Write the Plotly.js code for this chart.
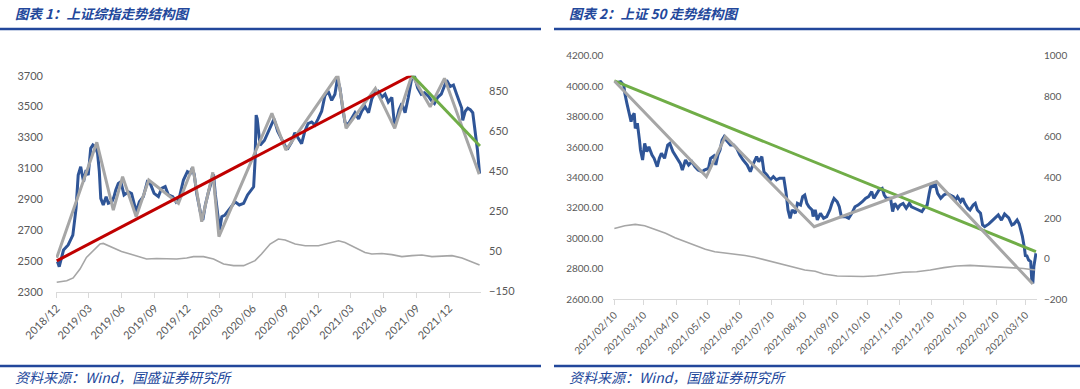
<!DOCTYPE html>
<html>
<head>
<meta charset="utf-8">
<script src="https://cdn.plot.ly/plotly-3.0.1.min.js"></script>
<style>
  html, body { margin: 0; padding: 0; background: #ffffff; }
  #chart { width: 1080px; height: 389px; }
</style>
</head>
<body>
<div id="chart"></div>
<script>
// ---------------- Chart 1: 上证综指 ----------------
const shDates = ['2018-12-22','2018-12-27','2019-01-08','2019-01-21','2019-02-03','2019-02-12','2019-02-18','2019-02-25','2019-03-05','2019-03-12','2019-03-18','2019-03-25','2019-03-31','2019-04-06','2019-04-13','2019-04-18','2019-04-22','2019-04-29','2019-05-07','2019-05-13','2019-05-23','2019-05-29','2019-06-03','2019-06-10','2019-06-17','2019-06-26','2019-07-08','2019-07-17','2019-07-30','2019-08-08','2019-08-19','2019-08-30','2019-09-07','2019-09-18','2019-09-30','2019-10-09','2019-10-19','2019-10-28','2019-11-09','2019-11-18','2019-11-28','2019-12-09','2019-12-20','2019-12-28','2020-01-02','2020-01-08','2020-01-15','2020-01-25','2020-02-01','2020-02-08','2020-02-17','2020-02-26','2020-03-02','2020-03-07','2020-03-13','2020-03-19','2020-03-25','2020-04-03','2020-04-17','2020-05-01','2020-05-13','2020-05-25','2020-06-05','2020-06-12','2020-06-22','2020-06-26','2020-06-29','2020-07-02','2020-07-10','2020-07-22','2020-08-02','2020-08-11','2020-08-18','2020-08-28','2020-09-08','2020-09-19','2020-09-26','2020-10-06','2020-10-15','2020-10-24','2020-11-03','2020-11-12','2020-11-21','2020-12-01','2020-12-10','2020-12-19','2020-12-29','2021-01-07','2021-01-16','2021-01-26','2021-02-04','2021-02-11','2021-02-18','2021-02-25','2021-03-04','2021-03-12','2021-03-23','2021-04-01','2021-04-11','2021-04-20','2021-04-29','2021-05-09','2021-05-18','2021-05-27','2021-06-05','2021-06-15','2021-06-24','2021-07-03','2021-07-13','2021-07-20','2021-07-27','2021-08-02','2021-08-10','2021-08-19','2021-08-28','2021-09-07','2021-09-14','2021-09-23','2021-10-03','2021-10-12','2021-10-22','2021-10-31','2021-11-09','2021-11-18','2021-11-28','2021-12-07','2021-12-13','2021-12-23','2022-01-01','2022-01-10','2022-01-17','2022-01-24','2022-01-27','2022-02-03','2022-02-10','2022-02-17','2022-02-24','2022-02-28','2022-03-06','2022-03-09','2022-03-15'];
const shClose = [2495,2462,2570,2603,2667,2840,3056,3110,3013,3089,3056,3229,3251,3240,3200,3080,2905,2862,2916,2873,2883,2916,2960,3002,3013,2927,2948,2937,2819,2883,2916,3013,3002,2937,2916,2970,2981,2927,2916,2883,2916,3024,3078,3067,3100,3060,2937,2819,2765,2862,2948,3024,3060,2930,2797,2700,2786,2797,2840,2883,2862,2873,2927,2948,2980,3150,3445,3420,3250,3280,3340,3380,3420,3340,3290,3240,3230,3270,3330,3300,3260,3340,3390,3400,3380,3420,3470,3570,3600,3540,3580,3680,3620,3500,3400,3380,3420,3460,3420,3470,3500,3460,3550,3590,3600,3560,3580,3530,3560,3390,3420,3480,3520,3460,3560,3690,3700,3620,3580,3590,3570,3540,3520,3560,3580,3640,3670,3630,3640,3580,3540,3490,3410,3470,3490,3480,3460,3380,3300,3220,3065];

const shWaveDates = ['2018-12-20','2019-04-11','2019-05-27','2019-06-22','2019-07-30','2019-09-03','2019-11-25','2020-01-04','2020-01-29','2020-02-29','2020-03-17','2020-08-12','2020-09-20','2021-02-12','2021-03-07','2021-05-28','2021-07-21','2021-09-07','2021-10-28','2021-12-07','2022-03-14'];
const shWaveVals = [2520,3268,2829,3045,2786,3024,2873,3110,2754,3074,2657,3456,3218,3704,3359,3618,3359,3705,3499,3683,3061];

const shUpDates = ['2018-12-20','2021-09-07'];
const shUpVals = [2500,3705];
const shDownDates = ['2021-09-07','2022-03-16'];
const shDownVals = [3705,3244];

const shLowDates = ['2018-12-20','2019-01-17','2019-02-04','2019-02-23','2019-03-13','2019-04-01','2019-04-20','2019-04-29','2019-05-13','2019-06-01','2019-06-19','2019-07-13','2019-08-05','2019-08-28','2019-09-25','2019-10-23','2019-11-20','2019-12-18','2020-01-06','2020-02-03','2020-03-02','2020-03-30','2020-04-27','2020-05-25','2020-06-12','2020-06-26','2020-07-14','2020-08-07','2020-08-30','2020-09-18','2020-10-16','2020-11-13','2020-12-20','2021-01-17','2021-02-14','2021-03-04','2021-04-01','2021-04-29','2021-05-18','2021-06-15','2021-07-13','2021-08-10','2021-09-07','2021-10-05','2021-11-02','2021-11-30','2021-12-28','2022-01-25','2022-02-26','2022-03-15'];
const shLowVals = [-105,-97,-83,-39,19,52,86,89,77,61,49,36,23,11,14,14,11,16,23,23,11,-14,-22,-22,-10,3,36,86,111,106,86,77,77,89,102,94,69,44,36,39,33,23,28,31,23,26,28,16,-6,-19];

const shTickDates = ['2018-12-20','2019-03-20','2019-06-20','2019-09-20','2019-12-20','2020-03-20','2020-06-20','2020-09-20','2020-12-20','2021-03-20','2021-06-20','2021-09-20','2021-12-20'];
const shTickLabels = ['2018/12','2019/03','2019/06','2019/09','2019/12','2020/03','2020/06','2020/09','2020/12','2021/03','2021/06','2021/09','2021/12'];
const shLeftTicks = [2300,2500,2700,2900,3100,3300,3500,3700];
const shRightTicks = [-150,50,250,450,650,850];

// ---------------- Chart 2: 上证50 ----------------
const szDates = ['2021-02-12','2021-02-16','2021-02-19','2021-02-20','2021-02-22','2021-02-24','2021-02-26','2021-02-27','2021-03-01','2021-03-02','2021-03-04','2021-03-06','2021-03-07','2021-03-09','2021-03-11','2021-03-13','2021-03-15','2021-03-18','2021-03-20','2021-03-23','2021-03-25','2021-03-27','2021-03-30','2021-04-02','2021-04-04','2021-04-07','2021-04-11','2021-04-14','2021-04-16','2021-04-19','2021-04-22','2021-04-25','2021-04-28','2021-05-01','2021-05-05','2021-05-07','2021-05-11','2021-05-13','2021-05-16','2021-05-18','2021-05-20','2021-05-22','2021-05-24','2021-05-26','2021-05-28','2021-06-01','2021-06-04','2021-06-07','2021-06-10','2021-06-13','2021-06-17','2021-06-20','2021-06-23','2021-06-26','2021-06-28','2021-07-01','2021-07-03','2021-07-06','2021-07-09','2021-07-12','2021-07-15','2021-07-18','2021-07-22','2021-07-24','2021-07-26','2021-07-28','2021-07-30','2021-08-02','2021-08-04','2021-08-07','2021-08-09','2021-08-11','2021-08-13','2021-08-15','2021-08-18','2021-08-19','2021-08-21','2021-08-23','2021-08-26','2021-08-29','2021-09-01','2021-09-04','2021-09-06','2021-09-08','2021-09-11','2021-09-13','2021-09-15','2021-09-19','2021-09-22','2021-09-25','2021-09-28','2021-10-01','2021-10-05','2021-10-08','2021-10-11','2021-10-14','2021-10-16','2021-10-19','2021-10-21','2021-10-24','2021-10-26','2021-10-28','2021-11-01','2021-11-03','2021-11-05','2021-11-08','2021-11-10','2021-11-13','2021-11-16','2021-11-19','2021-11-21','2021-11-24','2021-11-28','2021-12-01','2021-12-04','2021-12-06','2021-12-08','2021-12-10','2021-12-11','2021-12-14','2021-12-16','2021-12-19','2021-12-22','2021-12-25','2021-12-28','2021-12-31','2022-01-02','2022-01-04','2022-01-07','2022-01-09','2022-01-11','2022-01-14','2022-01-16','2022-01-19','2022-01-21','2022-01-23','2022-01-26','2022-01-28','2022-01-30','2022-02-03','2022-02-06','2022-02-09','2022-02-12','2022-02-15','2022-02-18','2022-02-22','2022-02-25','2022-02-27','2022-03-02','2022-03-04','2022-03-07','2022-03-09','2022-03-10','2022-03-11','2022-03-13','2022-03-15','2022-03-16','2022-03-17','2022-03-18','2022-03-20'];
const szClose = [4023,4029,4007,3953,3887,3821,3767,3800,3821,3723,3756,3646,3581,3515,3624,3570,3602,3548,3526,3471,3526,3559,3526,3613,3624,3570,3526,3493,3449,3515,3482,3504,3471,3449,3438,3449,3460,3526,3541,3482,3548,3581,3646,3668,3646,3613,3613,3592,3548,3515,3482,3438,3493,3537,3504,3537,3438,3416,3384,3406,3384,3395,3395,3307,3187,3132,3187,3165,3230,3219,3274,3285,3230,3208,3187,3143,3187,3121,3165,3132,3143,3187,3230,3263,3241,3208,3143,3143,3132,3165,3208,3219,3241,3263,3274,3307,3263,3296,3318,3329,3285,3263,3263,3176,3230,3198,3219,3230,3198,3230,3208,3198,3187,3176,3208,3219,3296,3362,3340,3351,3296,3263,3285,3296,3285,3274,3252,3274,3241,3263,3230,3198,3187,3219,3230,3187,3165,3088,3077,3095,3115,3138,3154,3120,3160,3135,3088,3095,3121,3095,3015,2935,2880,2891,2858,2847,2727,2705,2815,2902];

const szWaveDates = ['2021-02-10','2021-05-09','2021-05-27','2021-08-20','2021-12-15','2022-03-17'];
const szWaveVals = [4034,3406,3668,3077,3373,2700];

const szDownDates = ['2021-02-10','2022-03-20'];
const szDownVals = [4034,2913];

const szLowDates = ['2021-02-10','2021-02-20','2021-03-02','2021-03-11','2021-03-21','2021-03-31','2021-04-09','2021-04-19','2021-04-28','2021-05-08','2021-05-17','2021-05-27','2021-06-05','2021-06-15','2021-06-24','2021-07-04','2021-07-14','2021-07-23','2021-08-02','2021-08-11','2021-08-21','2021-08-29','2021-09-11','2021-09-23','2021-10-06','2021-10-19','2021-11-01','2021-11-13','2021-11-26','2021-12-09','2021-12-22','2022-01-03','2022-01-16','2022-01-29','2022-02-11','2022-02-23','2022-03-08','2022-03-19'];
const szLowVals = [149,162,169,162,144,125,103,84,64,46,34,29,23,16,7,-6,-20,-34,-46,-56,-62,-75,-85,-88,-88,-84,-75,-67,-64,-56,-44,-36,-33,-36,-41,-43,-48,-56];

const szTickDates = ['2021-02-10','2021-03-10','2021-04-10','2021-05-10','2021-06-10','2021-07-10','2021-08-10','2021-09-10','2021-10-10','2021-11-10','2021-12-10','2022-01-10','2022-02-10','2022-03-10'];
const szTickLabels = ['2021/02/10','2021/03/10','2021/04/10','2021/05/10','2021/06/10','2021/07/10','2021/08/10','2021/09/10','2021/10/10','2021/11/10','2021/12/10','2022/01/10','2022/02/10','2022/03/10'];
const szLeftTicks = [2600,2800,3000,3200,3400,3600,3800,4000,4200];
const szRightTicks = [-200,0,200,400,600,800,1000];

// ---------------- styles ----------------
const BLUE = '#2F5597', GRAY = '#A6A6A6', RED = '#C00000', GREEN = '#70AD47';
const HEAD = '#22479B';
const W = 1080, H = 389;
const px = v => v / W, py = v => 1 - v / H;

const traces = [
  {x: shLowDates, y: shLowVals, xaxis: 'x', yaxis: 'y2', mode: 'lines', line: {color: GRAY, width: 1.6}, hoverinfo: 'skip'},
  {x: shDates, y: shClose, xaxis: 'x', yaxis: 'y', mode: 'lines', line: {color: BLUE, width: 3}, hoverinfo: 'skip'},
  {x: shWaveDates, y: shWaveVals, xaxis: 'x', yaxis: 'y', mode: 'lines', line: {color: GRAY, width: 3}, hoverinfo: 'skip'},
  {x: shUpDates, y: shUpVals, xaxis: 'x', yaxis: 'y', mode: 'lines', line: {color: RED, width: 3}, hoverinfo: 'skip'},
  {x: shDownDates, y: shDownVals, xaxis: 'x', yaxis: 'y', mode: 'lines', line: {color: GREEN, width: 3}, hoverinfo: 'skip'},

  {x: szLowDates, y: szLowVals, xaxis: 'x2', yaxis: 'y4', mode: 'lines', line: {color: GRAY, width: 1.6}, hoverinfo: 'skip'},
  {x: szDates, y: szClose, xaxis: 'x2', yaxis: 'y3', mode: 'lines', line: {color: BLUE, width: 3}, hoverinfo: 'skip'},
  {x: szDownDates, y: szDownVals, xaxis: 'x2', yaxis: 'y3', mode: 'lines', line: {color: GREEN, width: 3}, hoverinfo: 'skip'},
  {x: szWaveDates, y: szWaveVals, xaxis: 'x2', yaxis: 'y3', mode: 'lines', line: {color: GRAY, width: 3}, hoverinfo: 'skip'}
];

const tickFontY = {family: 'Lato, "Liberation Sans", sans-serif', size: 11, color: '#595959'};
const tickFontY2 = {family: 'Lato, "Liberation Sans", sans-serif', size: 10, color: '#595959'};
const tickFontX1 = {family: 'Lato, "Liberation Sans", sans-serif', size: 11, color: '#595959'};
const tickFontX2 = {family: 'Lato, "Liberation Sans", sans-serif', size: 10, color: '#595959'};

const xBase = {type: 'date', showgrid: false, zeroline: false, showline: true, linecolor: '#D9D9D9', linewidth: 1,
  ticks: 'outside', ticklen: 5, tickcolor: '#D9D9D9', tickangle: -45, fixedrange: true};
const yBase = {showgrid: false, zeroline: false, showline: false, ticks: '', fixedrange: true};

const headFont = {family: '"Noto Sans CJK SC", sans-serif', size: 13.5, color: HEAD};
const srcFont = {family: '"Noto Sans CJK SC", sans-serif', size: 14, color: HEAD};

const layout = {
  width: W, height: H,
  margin: {l: 0, r: 0, t: 0, b: 0},
  paper_bgcolor: '#ffffff', plot_bgcolor: 'rgba(0,0,0,0)',
  showlegend: false,
  xaxis: Object.assign({}, xBase, {domain: [px(56), px(481)], anchor: 'y', range: ['2018-12-18', '2022-03-19'], tickvals: shTickDates, ticktext: shTickLabels, tickfont: tickFontX1}),
  yaxis: Object.assign({}, yBase, {domain: [py(291.7), py(75.7)], anchor: 'x', range: [2300, 3700], tickvals: shLeftTicks, tickfont: tickFontY, ticklabelstandoff: 12}),
  yaxis2: Object.assign({}, yBase, {overlaying: 'y', side: 'right', anchor: 'x', range: [-152, 926], tickvals: shRightTicks, tickfont: tickFontY, ticklabelstandoff: 7}),
  xaxis2: Object.assign({}, xBase, {domain: [px(613.3), px(1037)], anchor: 'y3', range: ['2021-02-09', '2022-03-21'], tickvals: szTickDates, ticktext: szTickLabels, tickfont: tickFontX2}),
  yaxis3: Object.assign({}, yBase, {domain: [py(299.3), py(55.7)], anchor: 'x2', range: [2600, 4200], tickvals: szLeftTicks, tickformat: '.2f', tickfont: tickFontY2, ticklabelstandoff: 9}),
  yaxis4: Object.assign({}, yBase, {overlaying: 'y3', side: 'right', anchor: 'x2', range: [-200, 1000], tickvals: szRightTicks, tickfont: tickFontY2, ticklabelstandoff: 6}),
  shapes: [
    {type: 'line', xref: 'paper', yref: 'paper', x0: 0, x1: px(541), y0: py(29), y1: py(29), line: {color: HEAD, width: 2.5}},
    {type: 'line', xref: 'paper', yref: 'paper', x0: px(554), x1: 1, y0: py(29), y1: py(29), line: {color: HEAD, width: 2.5}},
    {type: 'line', xref: 'paper', yref: 'paper', x0: 0, x1: px(541), y0: py(366), y1: py(366), line: {color: HEAD, width: 2.5}},
    {type: 'line', xref: 'paper', yref: 'paper', x0: px(554), x1: 1, y0: py(366), y1: py(366), line: {color: HEAD, width: 2.5}}
  ],
  annotations: [
    {xref: 'paper', yref: 'paper', x: px(13), y: py(13), xanchor: 'left', yanchor: 'middle', showarrow: false, text: '<b><i>图表 1：上证综指走势结构图</i></b>', font: headFont},
    {xref: 'paper', yref: 'paper', x: px(567), y: py(13), xanchor: 'left', yanchor: 'middle', showarrow: false, text: '<b><i>图表 2：上证 50 走势结构图</i></b>', font: headFont},
    {xref: 'paper', yref: 'paper', x: px(13), y: py(377), xanchor: 'left', yanchor: 'middle', showarrow: false, text: '<i>资料来源：Wind，国盛证券研究所</i>', font: srcFont},
    {xref: 'paper', yref: 'paper', x: px(567), y: py(377), xanchor: 'left', yanchor: 'middle', showarrow: false, text: '<i>资料来源：Wind，国盛证券研究所</i>', font: srcFont}
  ]
};

Plotly.newPlot('chart', traces, layout, {staticPlot: true, displayModeBar: false});
</script>
</body>
</html>
